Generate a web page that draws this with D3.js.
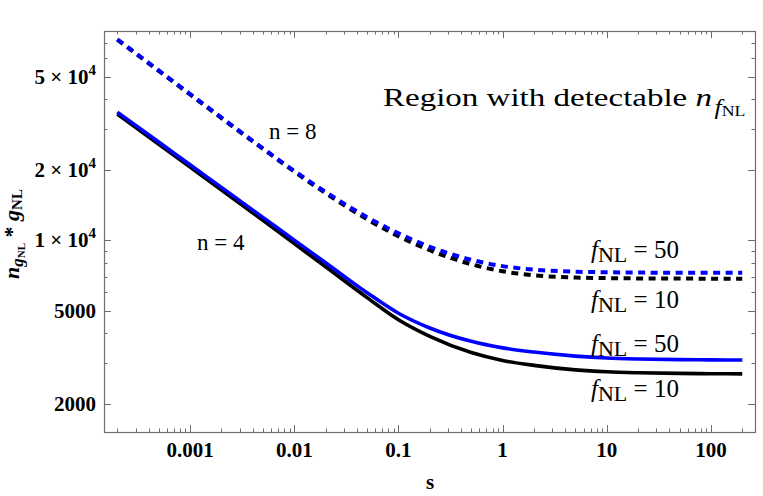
<!DOCTYPE html>
<html>
<head>
<meta charset="utf-8">
<script src="https://cdn.jsdelivr.net/npm/d3@7"></script>
<style>
  body { margin: 0; background: #fff; }
  svg { display: block; }
  text { font-family: "Liberation Serif", "DejaVu Serif", serif; }
</style>
</head>
<body>
<svg id="chart" width="763" height="496"></svg>
<script>
// values (log-log axes)
var sVals = [2e-4, 5e-4, 1e-3, 2e-3, 5e-3, 0.01, 0.02, 0.05, 0.1, 0.2, 0.5, 1, 2, 5, 10, 20, 50, 100, 200];
var n8f50 = [72300, 53190, 42170, 33440, 24720, 19800, 16080, 12560, 10705, 9384, 8253, 7756, 7491, 7341, 7300, 7280, 7267, 7262, 7259];
var n8f10 = [71970, 52950, 41980, 33290, 24610, 19660, 15900, 12300, 10410, 9066, 7900, 7373, 7088, 6930, 6891, 6872, 6860, 6856, 6853];
var n4f50 = [35300, 26290, 21030, 16830, 12530, 10020, 8020, 5970, 4880, 4220, 3700, 3470, 3330, 3200, 3140, 3110, 3090, 3082, 3077];
var n4f10 = [34650, 25750, 20550, 16410, 12160, 9680, 7710, 5690, 4575, 3885, 3313, 3064, 2921, 2794, 2741, 2715, 2698, 2690, 2686];

var xMajor = [0.001, 0.01, 0.1, 1, 10, 100];
var xMajorLabels = ['0.001', '0.01', '0.1', '1', '10', '100'];
var yMajor = [2000, 5000, 10000, 20000, 50000];
var yMajorLabels = [['2000', ''], ['5000', ''], ['1 \u00d7 10', '4'], ['2 \u00d7 10', '4'], ['5 \u00d7 10', '4']];

var series = [
  {vals: n8f10, color: '#000', dashed: true},
  {vals: n8f50, color: '#0000ff', dashed: true},
  {vals: n4f10, color: '#000', dashed: false},
  {vals: n4f50, color: '#0000ff', dashed: false}
];

var plotL = 104, plotR = 755, plotT = 31, plotB = 432;

var svg = d3.select('#chart');

var x = d3.scaleLog()
  .domain([1.49e-4, 265])
  .range([plotL, plotR]);

var y = d3.scaleLog()
  .domain([1516, 78430])
  .range([plotB, plotT]);

function minorTicks(lo, hi) {
  var out = [];
  for (var p = Math.floor(Math.log10(lo)); p <= Math.ceil(Math.log10(hi)); p++) {
    for (var k = 1; k < 10; k++) {
      var v = k * Math.pow(10, p);
      if (v >= lo && v <= hi) out.push(v);
    }
  }
  return out;
}

function near(list, v) {
  return list.some(function(m) { return Math.abs(m - v) / m < 1e-9; });
}

var xMinor = minorTicks(x.domain()[0], x.domain()[1]).filter(function(v) {
  return !near(xMajor, v);
});
var yMinor = minorTicks(y.domain()[0], y.domain()[1]).filter(function(v) {
  return !near(yMajor, v);
});

// frame ticks, all pointing inward
var frameColor = '#6e6e6e';
var ticks = svg.append('g')
  .attr('stroke', frameColor)
  .attr('stroke-width', 1);

function xTicks(vals, len) {
  vals.forEach(function(v) {
    var px = Math.round(x(v)) + 0.5;
    ticks.append('line').attr('x1', px).attr('x2', px).attr('y1', plotB).attr('y2', plotB - len);
    ticks.append('line').attr('x1', px).attr('x2', px).attr('y1', plotT).attr('y2', plotT + len);
  });
}
function yTicks(vals, len) {
  vals.forEach(function(v) {
    var py = Math.round(y(v)) + 0.5;
    ticks.append('line').attr('y1', py).attr('y2', py).attr('x1', plotL).attr('x2', plotL + len);
    ticks.append('line').attr('y1', py).attr('y2', py).attr('x1', plotR).attr('x2', plotR - len);
  });
}
xTicks(xMajor, 7);
xTicks(xMinor, 3.5);
yTicks(yMajor, 7);
yTicks(yMinor, 3.5);

svg.append('rect')
  .attr('x', plotL + 0.5)
  .attr('y', plotT + 0.5)
  .attr('width', plotR - plotL)
  .attr('height', plotB - plotT)
  .attr('fill', 'none')
  .attr('stroke', frameColor)
  .attr('stroke-width', 1.2);

// tick labels
svg.append('g')
  .selectAll('text')
  .data(xMajor)
  .join('text')
    .attr('x', function(d) { return x(d); })
    .attr('y', 457)
    .attr('text-anchor', 'middle')
    .attr('font-size', 21)
    .attr('font-weight', 'bold')
    .text(function(d, i) { return xMajorLabels[i]; });

var yl = svg.append('g')
  .selectAll('text')
  .data(yMajor)
  .join('text')
    .attr('x', 96)
    .attr('y', function(d) { return y(d) + 7; })
    .attr('text-anchor', 'end')
    .attr('font-size', 21)
    .attr('font-weight', 'bold');
yl.append('tspan').text(function(d, i) { return yMajorLabels[i][0]; });
yl.append('tspan')
  .attr('font-size', 15)
  .attr('dy', -9)
  .text(function(d, i) { return yMajorLabels[i][1]; });

// curves
var line = d3.line()
  .x(function(d) { return x(d[0]); })
  .y(function(d) { return y(d[1]); })
  .curve(d3.curveMonotoneX);

svg.append('g')
  .selectAll('path')
  .data(series)
  .join('path')
    .attr('d', function(d) {
      return line(sVals.map(function(s, i) { return [s, d.vals[i]]; }));
    })
    .attr('fill', 'none')
    .attr('stroke', function(d) { return d.color; })
    .attr('stroke-width', function(d) { return d.dashed ? 4 : 3.6; })
    .attr('stroke-dasharray', function(d) { return d.dashed ? '7,5.5' : null; });

// annotations
function fLabel(px, py, value) {
  var t = svg.append('text')
    .attr('x', px)
    .attr('y', py)
    .attr('font-size', 25);
  t.append('tspan').attr('font-style', 'italic').text('f');
  t.append('tspan').attr('dy', 4).attr('font-size', 22).text('NL');
  t.append('tspan').attr('dy', -4).text(' = ' + value);
}
fLabel(591, 258, 50);
fLabel(591, 308, 10);
fLabel(591, 352, 50);
fLabel(591, 397, 10);

svg.append('text')
  .attr('x', 269).attr('y', 139)
  .attr('font-size', 23)
  .text('n = 8');
svg.append('text')
  .attr('x', 197).attr('y', 250)
  .attr('font-size', 23)
  .text('n = 4');

var reg = svg.append('text')
  .attr('transform', 'translate(383,106) scale(1.27,1)')
  .attr('font-size', 26);
reg.append('tspan').text('Region with detectable ');
reg.append('tspan').attr('font-style', 'italic').text('n');
reg.append('tspan').attr('font-style', 'italic').attr('font-size', 20).attr('dx', 2).attr('dy', 8).text('f');
reg.append('tspan').attr('font-size', 14).attr('dy', 2).text('NL');

// axis titles
svg.append('text')
  .attr('x', 430)
  .attr('y', 489)
  .attr('text-anchor', 'middle')
  .attr('font-size', 21)
  .attr('font-weight', 'bold')
  .text('s');

var yt = svg.append('text')
  .attr('transform', 'translate(19,234) rotate(-90)')
  .attr('text-anchor', 'middle')
  .attr('font-size', 22)
  .attr('font-weight', 'bold');
yt.append('tspan').attr('font-style', 'italic').text('n');
yt.append('tspan').attr('font-style', 'italic').attr('font-size', 17).attr('dy', 4).text('g');
yt.append('tspan').attr('font-size', 11).attr('dy', 2).text('NL');
yt.append('tspan').attr('dy', -6).text(' * ');
yt.append('tspan').attr('font-style', 'italic').text('g');
yt.append('tspan').attr('font-size', 15).attr('dy', 3).text('NL');
</script>
</body>
</html>
